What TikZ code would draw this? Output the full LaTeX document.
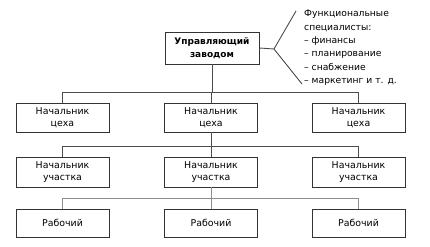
\documentclass[tikz,border=0pt]{standalone}
\usepackage{fontspec}
\setmainfont{DejaVu Sans}
\begin{document}
\begin{tikzpicture}[x=1pt,y=-1pt,
  box/.style={draw=black!80,line width=0.9pt,inner sep=0pt,align=center,text=black,font=\fontsize{9.4}{12.5}\selectfont},
  b1/.style={box,minimum width=93pt,minimum height=29pt},
  b2/.style={box,minimum width=93pt,minimum height=30pt},
  b3/.style={box,minimum width=93pt,minimum height=28pt},
  conn/.style={draw=black!70,line width=0.9pt},
  conn3/.style={draw=black!45,line width=0.7pt}]
\useasboundingbox (0,0) rectangle (430,246);
\node[box,minimum width=94pt,minimum height=32pt,font=\fontsize{9}{12.8}\selectfont\bfseries] (top) at (212,48) {Управляющий\\заводом};
\node[b1] (c1) at (62.5,117.5) {Начальник\\цеха};
\node[b1] (c2) at (211,117.5) {Начальник\\цеха};
\node[b1] (c3) at (358.5,117.5) {Начальник\\цеха};
\node[b2] (u1) at (62.5,172) {Начальник\\участка};
\node[b2] (u2) at (211,172) {Начальник\\участка};
\node[b2] (u3) at (358.5,172) {Начальник\\участка};
\node[b3] (r1) at (62.5,223) {Рабочий};
\node[b3] (r2) at (211,223) {Рабочий};
\node[b3] (r3) at (358.5,223) {Рабочий};
\coordinate (bus1) at (0,92);
\coordinate (bus2) at (0,146);
\coordinate (bus3) at (0,198);
% top level
\draw[conn] (top.south) -- (top.south |- bus1);
\draw[conn] (c1.north) -- (c1.north |- bus1) -- (c3.north |- bus1) -- (c3.north);
\draw[conn] (c2.north) -- (c2.north |- bus1);
% second level
\draw[conn] (c2.south) -- (c2.south |- bus2);
\draw[conn] (u1.north) -- (u1.north |- bus2) -- (u3.north |- bus2) -- (u3.north);
\draw[conn] (u2.north) -- (u2.north |- bus2);
% third level
\draw[conn3] (u2.south) -- (u2.south |- bus3);
\draw[conn3] (r1.north) -- (r1.north |- bus3) -- (r3.north |- bus3) -- (r3.north);
\draw[conn3] (r2.north) -- (r2.north |- bus3);
% functional specialists
\coordinate (k) at (274,49);
\coordinate (kt) at (296,11);
\coordinate (kb) at (302,84);
\draw[conn] (top.east) -- (k);
\draw[conn] (kt) -- (k) -- (kb);
\node[anchor=north west,align=left,inner sep=0pt,text=black,font=\fontsize{9.2}{13.3}\selectfont] (fs) at (304,10)
 {Функциональные\\специалисты:\\– финансы\\– планирование\\– снабжение\\– маркетинг и т. д.};
\end{tikzpicture}
\end{document}
